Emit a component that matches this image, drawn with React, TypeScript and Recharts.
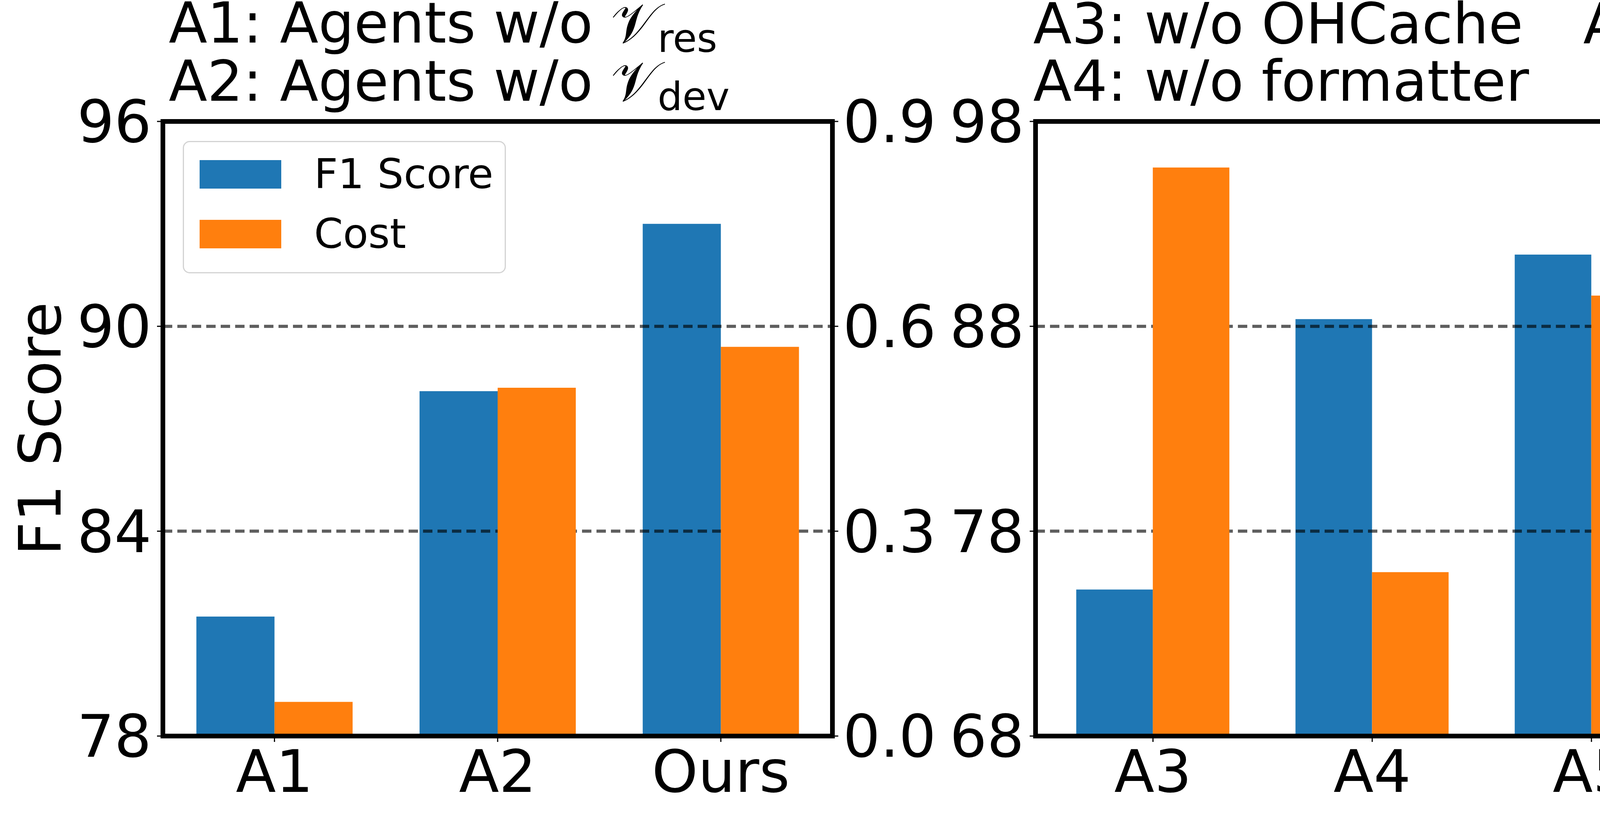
import { BarChart, Bar, XAxis, YAxis, ReferenceLine, Legend } from 'recharts'

// left panel: agent ablations
const leftCategories = ['A1', 'A2', 'Ours']
const leftF1 = [81.5, 88.1, 93.0]
const leftCost = [0.05, 0.51, 0.57]
const leftF1Ticks = [78, 84, 90, 96]
const leftCostTicks = [0.0, 0.3, 0.6, 0.9]
const leftGrid = [84, 90]

// right panel: cache / formatter ablations
const rightCategories = ['A3', 'A4', 'A5', 'Ours']
const rightF1 = [75.15, 88.35, 91.5, 93.0]
const rightCost = [1.41, 0.62, 1.16, 0.57]
const rightF1Ticks = [68, 78, 88, 98]
const rightCostTicks = [0.3, 0.7, 1.1, 1.5]
const rightGrid = [78, 88]

const seriesOrder = ['F1 Score', 'Cost']

const FONT = 'DejaVu Sans'
const BLUE = '#1f77b4'
const ORANGE = '#ff7f0e'

const tickStyle = { fontSize: 150, fill: '#000', fontFamily: FONT }
const spine = { stroke: '#000', strokeWidth: 12, strokeLinecap: 'square' as const }
const tickLine = { stroke: '#000', strokeWidth: 3 }

function LegendBox({ payload }: any) {
  const items = [...(payload ?? [])].sort(
    (a: any, b: any) => seriesOrder.indexOf(a.value) - seriesOrder.indexOf(b.value)
  )
  return (
    <svg width={827} height={339} style={{ display: 'block' }}>
      <rect x={1.5} y={1.5} width={824} height={336} rx={16} fill="#fff" fillOpacity={0.8} stroke="#d3d3d3" strokeWidth={3} />
      {items.map((it: any, i: number) => (
        <g key={it.value}>
          <rect x={43} y={49 + i * 153} width={209} height={73} fill={it.color} />
          <text x={336} y={121 + i * 153} fontSize={106} fontFamily={FONT} fill="#000">
            {it.value}
          </text>
        </g>
      ))}
    </svg>
  )
}

interface PanelProps {
  categories: string[]
  f1: number[]
  cost: number[]
  f1Ticks: number[]
  costTicks: number[]
  grid: number[]
  width: number
  margin: { top: number; left: number; right: number; bottom: number }
  padding: number
  legend?: boolean
}

function Panel({ categories, f1, cost, f1Ticks, costTicks, grid, width, margin, padding, legend }: PanelProps) {
  const data = categories.map((name, i) => ({ name, f1: f1[i], cost: cost[i] }))
  const f1Domain = [f1Ticks[0], f1Ticks[f1Ticks.length - 1]]
  const costDomain = [costTicks[0], costTicks[costTicks.length - 1]]
  return (
    <BarChart
      width={width}
      height={2100}
      data={data}
      margin={margin}
      barGap={0}
      barCategoryGap="15%"
      style={{ overflow: 'visible' }}
    >
      <XAxis
        dataKey="name"
        height={150}
        interval={0}
        padding={{ left: padding, right: padding }}
        tick={tickStyle}
        tickSize={15}
        tickMargin={21}
        tickLine={tickLine}
        axisLine={spine}
      />
      <YAxis
        yAxisId="f1"
        orientation="left"
        width={200}
        domain={f1Domain}
        ticks={f1Ticks}
        tick={tickStyle}
        tickSize={15}
        tickMargin={14}
        tickLine={tickLine}
        axisLine={spine}
      />
      <YAxis
        yAxisId="cost"
        orientation="right"
        width={200}
        domain={costDomain}
        ticks={costTicks}
        tickFormatter={(v: number) => v.toFixed(1)}
        tick={tickStyle}
        tickSize={15}
        tickMargin={12}
        tickLine={tickLine}
        axisLine={spine}
      />
      <Bar yAxisId="f1" dataKey="f1" name="F1 Score" fill={BLUE} isAnimationActive={false} zIndex={100} />
      {grid.map((g) => (
        <ReferenceLine
          key={g}
          yAxisId="f1"
          y={g}
          stroke="#000"
          strokeOpacity={0.63}
          strokeWidth={8}
          strokeDasharray="24 13"
          zIndex={200}
        />
      ))}
      <Bar yAxisId="cost" dataKey="cost" name="Cost" fill={ORANGE} isAnimationActive={false} zIndex={300} />
      {/* top spine */}
      <ReferenceLine yAxisId="f1" y={f1Domain[1]} stroke="#000" strokeWidth={12} strokeLinecap="square" zIndex={400} />
      {legend && (
        <Legend
          layout="horizontal"
          verticalAlign="middle"
          align="center"
          wrapperStyle={{ left: 468, top: 361, width: 827, height: 339 }}
          content={LegendBox}
        />
      )}
    </BarChart>
  )
}

export default function App() {
  return (
    <>
      <style>{'html, body { margin: 0; padding: 0; background: #fff; }'}</style>
      <div style={{ position: 'relative', width: 5400, height: 2100, background: '#fff', fontFamily: FONT, overflow: 'hidden' }}>
        <div style={{ position: 'absolute', left: 0, top: 0 }}>
          <Panel
            categories={leftCategories}
            f1={leftF1}
            cost={leftCost}
            f1Ticks={leftF1Ticks}
            costTicks={leftCostTicks}
            grid={leftGrid}
            width={2550}
            margin={{ top: 311, left: 217, right: 219, bottom: 65 }}
            padding={0}
            legend
          />
        </div>
        <div style={{ position: 'absolute', left: 2400, top: 0 }}>
          <Panel
            categories={rightCategories}
            f1={rightF1}
            cost={rightCost}
            f1Ticks={rightF1Ticks}
            costTicks={rightCostTicks}
            grid={rightGrid}
            width={3000}
            margin={{ top: 311, left: 51, right: 264, bottom: 65 }}
            padding={20}
          />
        </div>
        {/* titles and axis labels */}
        <svg width={5400} height={2100} style={{ position: 'absolute', left: 0, top: 0, pointerEvents: 'none' }} fontFamily={FONT}>
          <text x={432} y={109} fontSize={144}>
            A1: Agents w/o 𝒱
            <tspan fontSize={100} dy={24}>res</tspan>
          </text>
          <text x={432} y={258} fontSize={144}>
            A2: Agents w/o 𝒱
            <tspan fontSize={100} dy={24}>dev</tspan>
          </text>
          <text x={2645} y={111} fontSize={144}>A3: w/o OHCache</text>
          <text x={4053} y={111} fontSize={144}>A5: w/o cache</text>
          <text x={2645} y={258} fontSize={144}>A4: w/o formatter</text>
          <text x={155} y={1098} fontSize={150} textAnchor="middle" transform="rotate(-90 155 1098)">F1 Score</text>
          <text x={5334} y={1109} fontSize={150} textAnchor="middle" transform="rotate(-90 5334 1109)">Cost</text>
        </svg>
      </div>
    </>
  )
}
